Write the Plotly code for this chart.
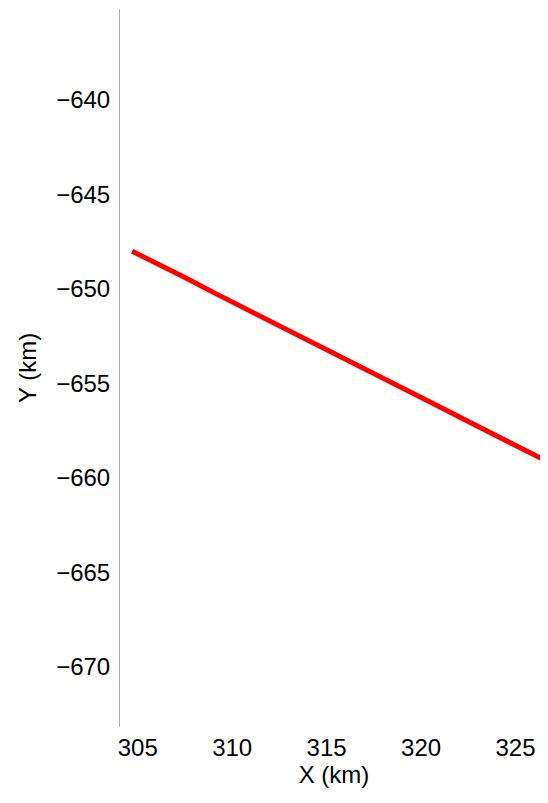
import plotly.graph_objects as go

# Track coordinates (km)
x_km = [304.7, 306.0, 307.5, 309.0, 310.5, 312.0, 313.5, 315.0, 316.5,
        318.0, 319.5, 321.0, 322.5, 324.0, 325.5, 327.0, 328.0]
y_km = [-648.00, -648.62, -649.40, -650.18, -650.93, -651.70, -652.45, -653.18, -653.95,
        -654.73, -655.48, -656.25, -657.02, -657.80, -658.55, -659.30, -659.80]

x_ticks = [305, 310, 315, 320, 325]
y_ticks = [-640, -645, -650, -655, -660, -665, -670]

FONT = "Arial, 'Liberation Sans', Helvetica, sans-serif"

fig = go.Figure()
fig.add_trace(go.Scatter(
    x=x_km, y=y_km, mode="lines",
    line=dict(color="#ff0000", width=5),
    showlegend=False, hoverinfo="skip",
))

fig.update_layout(
    width=540, height=795,
    margin=dict(l=112, r=0, t=1, b=76, autoexpand=False),
    paper_bgcolor="white", plot_bgcolor="white",
    font=dict(family=FONT, size=24, color="black"),
    xaxis=dict(
        range=[304.06, 326.72], tickvals=x_ticks, ticks="",
        showgrid=False, zeroline=False, showline=False,
        ticklabelstandoff=4,
        title=dict(text="X (km)", standoff=5, font=dict(size=24)),
        automargin=False,
    ),
    yaxis=dict(
        range=[-673.19, -635.18], tickvals=y_ticks, ticks="",
        showgrid=False, zeroline=False, showline=True,
        linecolor="#aaaaaa", linewidth=1,
        ticklabelstandoff=4,
        title=dict(text="Y (km)", standoff=12, font=dict(size=24)),
        automargin=False,
    ),
)

fig.write_html("out.html")
